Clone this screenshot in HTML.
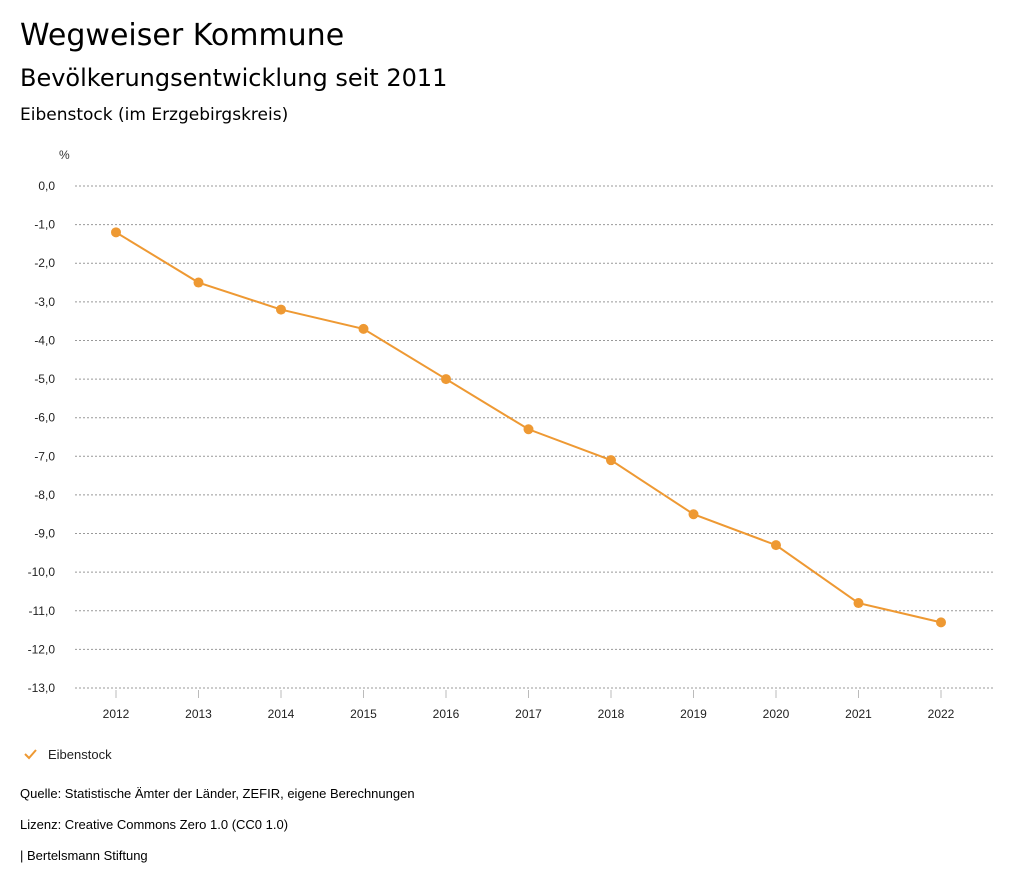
<!DOCTYPE html>
<html><head><meta charset="utf-8"><style>
body{margin:0;width:1024px;height:888px;background:#fff;font-family:"Liberation Sans","DejaVu Sans",sans-serif;color:#000;overflow:hidden}
.t{position:absolute;left:20px;white-space:nowrap}
.d{font-family:"DejaVu Sans",sans-serif}
</style></head><body>
<div class="t d" style="top:18px;font-size:30px">Wegweiser Kommune</div>
<div class="t d" style="top:64px;font-size:24px">Bevölkerungsentwicklung seit 2011</div>
<div class="t d" style="top:105px;font-size:17px">Eibenstock (im Erzgebirgskreis)</div>
<svg id="c" width="1024" height="888" style="position:absolute;left:0;top:0"></svg>
<div class="t" style="top:786px;font-size:13px">Quelle: Statistische Ämter der Länder, ZEFIR, eigene Berechnungen</div>
<div class="t" style="top:817px;font-size:13px">Lizenz: Creative Commons Zero 1.0 (CC0 1.0)</div>
<div class="t" style="top:848px;font-size:13px">| Bertelsmann Stiftung</div>
<script>
const years=[2012,2013,2014,2015,2016,2017,2018,2019,2020,2021,2022];
const values=[-1.2,-2.5,-3.2,-3.7,-5.0,-6.3,-7.1,-8.5,-9.3,-10.8,-11.3];
const yTicks=[0,-1,-2,-3,-4,-5,-6,-7,-8,-9,-10,-11,-12,-13];
const seriesName="Eibenstock";
const svg=document.getElementById('c');const NS='http://www.w3.org/2000/svg';
const COL='#ee9933';
function y(v){return 186+(0-v)*(688-186)/13;}
function x(i){return 116+i*(941-116)/(years.length-1);}
function mk(t,a,p){const e=document.createElementNS(NS,t);for(const k in a)e.setAttribute(k,a[k]);(p||svg).appendChild(e);return e;}
const u=mk('text',{x:59,y:159,'font-size':12,fill:'#333'});u.textContent='%';


yTicks.forEach(v=>{
 const l=mk('line',{x1:75,x2:993,y1:y(v),y2:y(v),stroke:'#999','stroke-dasharray':'2,2','stroke-width':1});
 
 
 const t=mk('text',{x:55,y:y(v)+4,'font-size':12,'text-anchor':'end',fill:'#222'});
 t.textContent=v.toFixed(1).replace('.',',');
 
 
});
years.forEach((yr,i)=>{
 const tk=mk('line',{x1:x(i),x2:x(i),y1:690,y2:698,stroke:'#bbb'});
 
 
 const t=mk('text',{x:x(i),y:718,'font-size':12,'text-anchor':'middle',fill:'#222'});
 t.textContent=yr;
 
 
});
const pl=mk('polyline',{points:values.map((v,i)=>x(i)+','+y(v)).join(' '),fill:'none',stroke:COL,'stroke-width':2});


values.forEach((v,i)=>{
 const c=mk('circle',{cx:x(i),cy:y(v),r:5,fill:COL});
 
 
});
const lg=mk('g',{});


mk('polyline',{points:'25,754 29,758 36,750',fill:'none',stroke:COL,'stroke-width':2},lg);
const lt=mk('text',{x:48,y:759,'font-size':13,fill:'#222'},lg);lt.textContent=seriesName;
</script>
</body></html>
